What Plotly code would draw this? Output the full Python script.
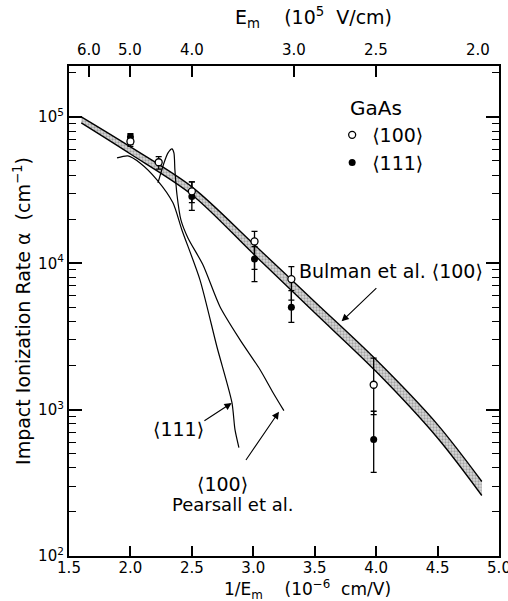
import numpy as np
import plotly.graph_objects as go

# Bulman et al. <100> band (upper / lower edge of the shaded band)
band_x = [1.60, 2.00, 2.50, 3.00, 3.50, 4.00, 4.50, 4.86]
band_upper = [1.00e5, 6.24e4, 3.33e4, 1.36e4, 5.46e3, 2.19e3, 790, 323]
band_lower = [9.1e4, 5.58e4, 2.94e4, 1.16e4, 4.59e3, 1.82e3, 640, 259]

# measured ionization rates, <100> (open) and <111> (filled)
x100 = [2.00, 2.23, 2.50, 3.01, 3.31, 3.98]
a100 = [6.8e4, 4.9e4, 3.1e4, 1.41e4, 7.8e3, 1.48e3]
a100_hi = [7.6e4, 5.35e4, 3.6e4, 1.65e4, 9.5e3, 2.25e3]
a100_lo = [6.3e4, 4.4e4, 2.6e4, 9.1e3, 5.6e3, 925]

x111 = [2.00, 2.50, 3.01, 3.31, 3.98]
a111 = [7.3e4, 2.86e4, 1.07e4, 5.0e3, 624]
a111_hi = [7.7e4, 3.6e4, 1.3e4, 6.5e3, 975]
a111_lo = [6.5e4, 2.3e4, 7.5e3, 3.95e3, 373]

# Pearsall et al. curves
p111_x = [1.891, 1.980, 2.078, 2.216, 2.346, 2.419, 2.566, 2.704, 2.826, 2.851, 2.883]
p111_a = [5.25e4, 5.42e4, 4.85e4, 3.72e4, 2.59e4, 1.69e4, 7.71e3, 2.69e3, 1.12e3, 730, 551]
p100_x = [2.224, 2.273, 2.306, 2.338, 2.354, 2.362, 2.379, 2.411, 2.468, 2.590,
          2.729, 2.891, 3.054, 3.160, 3.249]
p100_a = [3.54e4, 4.85e4, 5.68e4, 6.05e4, 5.68e4, 4.35e4, 2.94e4, 1.98e4, 1.49e4, 9.77e3,
          5.05e3, 3.01e3, 1.88e3, 1.31e3, 984]

# axis ticks
x_ticks = [1.5, 2.0, 2.5, 3.0, 3.5, 4.0, 4.5, 5.0]
x_ticktext = ["1.5", "2.0", "2.5", "3.0", "3.5", "4.0", "4.5", "5.0"]
field_ticks = [6.0, 5.0, 4.0, 3.0, 2.5, 2.0]          # E_m in 1e5 V/cm
field_ticktext = ["6.0", "5.0", "4.0", "3.0", "2.5", "2.0"]
y_ticks = [1e2, 1e3, 1e4, 1e5]
y_ticktext = ["10<sup>2</sup>", "10<sup>3</sup>", "10<sup>4</sup>", "10<sup>5</sup>"]
y_minor = [m * 10 ** k for k in range(2, 6) for m in range(2, 10)]

FONT = "DejaVu Sans"
lg = np.log10

fig = go.Figure()

# shaded band: lower edge, then upper edge filled down to it
fig.add_trace(go.Scatter(x=band_x, y=band_lower, mode="lines",
                         line=dict(color="black", width=1.4, shape="spline", smoothing=0.9),
                         showlegend=False, hoverinfo="skip"))
fig.add_trace(go.Scatter(
    x=band_x, y=band_upper, mode="lines", fill="tonexty",
    line=dict(color="black", width=1.4, shape="spline", smoothing=0.9),
    fillcolor="#d4d4d4",
    fillpattern=dict(shape=".", fgcolor="#6a6a6a", bgcolor="#dadada", size=3, solidity=0.45),
    showlegend=False, hoverinfo="skip"))

# Pearsall et al. curves
for cx, cy in ((p111_x, p111_a), (p100_x, p100_a)):
    fig.add_trace(go.Scatter(x=cx, y=cy, mode="lines",
                             line=dict(color="black", width=1.2, shape="spline", smoothing=0.7),
                             showlegend=False, hoverinfo="skip"))

# data points with error bars
fig.add_trace(go.Scatter(
    x=x111, y=a111, mode="markers", name="⟨111⟩",
    marker=dict(symbol="circle", size=7, color="black"),
    error_y=dict(type="data", symmetric=False,
                 array=[h - v for h, v in zip(a111_hi, a111)],
                 arrayminus=[v - l for v, l in zip(a111, a111_lo)],
                 color="black", thickness=1.3, width=3)))
fig.add_trace(go.Scatter(
    x=x100, y=a100, mode="markers", name="⟨100⟩",
    marker=dict(symbol="circle", size=7, color="white", line=dict(color="black", width=1.3)),
    error_y=dict(type="data", symmetric=False,
                 array=[h - v for h, v in zip(a100_hi, a100)],
                 arrayminus=[v - l for v, l in zip(a100, a100_lo)],
                 color="black", thickness=1.3, width=3)))

# top axis carrier
fig.add_trace(go.Scatter(x=[5.0], y=[1e3], xaxis="x2", mode="markers",
                         marker=dict(opacity=0), showlegend=False, hoverinfo="skip"))

axis_common = dict(showline=True, linecolor="black", linewidth=2.2, showgrid=False,
                   zeroline=False, ticks="inside", tickcolor="black", automargin=False)

fig.update_layout(
    width=508, height=601,
    margin=dict(l=69, r=9, t=66, b=45, autoexpand=False),
    plot_bgcolor="white", paper_bgcolor="white",
    font=dict(family=FONT, size=15, color="black"),
    xaxis=dict(range=[1.5, 5.0], tickvals=x_ticks, ticktext=x_ticktext,
               ticklen=10, tickwidth=1.5, mirror=True, tickfont=dict(size=15),
               ticklabelstandoff=-3, ticklabeloverflow="allow", **axis_common),
    xaxis2=dict(range=[1.5, 5.0], overlaying="x", side="top",
                tickvals=[10.0 / e for e in field_ticks], showticklabels=False,
                ticklen=11, tickwidth=1.5, **axis_common),
    yaxis=dict(type="log", range=[2, 5.348], tickvals=y_ticks, ticktext=y_ticktext,
               ticklen=13, tickwidth=1.5, mirror="ticks", tickfont=dict(size=15),
               minor=dict(tickvals=y_minor, ticks="inside", ticklen=7, tickwidth=1.3,
                          tickcolor="black", showgrid=False),
               title=dict(text="Impact Ionization Rate α  (cm<sup>−1</sup>)",
                          font=dict(size=19), standoff=2),
               **axis_common),
    legend=dict(x=0.612, y=0.898, xanchor="left", yanchor="top",
                bgcolor="rgba(0,0,0,0)", font=dict(size=19), traceorder="reversed",
                tracegroupgap=0, itemwidth=30),
)

ann = []
# top tick labels (field values)
for e, t in zip(field_ticks, field_ticktext):
    ann.append(dict(x=10.0 / e, xref="x", y=1, yref="paper", text=t, showarrow=False,
                    yanchor="middle", yshift=16, xshift=-21 if e == 2.0 else 0,
                    font=dict(size=15)))
# axis titles
ann.append(dict(x=0.568, xref="paper", y=1, yref="paper", yshift=49, yanchor="middle",
                text="E<sub>m</sub>    (10<sup>5</sup>  V/cm)", showarrow=False,
                font=dict(size=19)))
ann.append(dict(x=0.555, xref="paper", y=0, yref="paper", yshift=-33, yanchor="middle",
                text="1/E<sub>m</sub>    (10<sup>−6</sup>  cm/V)", showarrow=False,
                font=dict(size=17)))
# legend heading
ann.append(dict(x=3.998, y=lg(1.15e5), text="GaAs", showarrow=False, font=dict(size=20)))
# curve labels
ann.append(dict(x=4.118, y=lg(8.8e3), text="Bulman et al. ⟨100⟩", showarrow=False,
                font=dict(size=19)))
ann.append(dict(x=3.719, y=lg(4.01e3), ax=4.014, ay=lg(6.92e3), axref="x", ayref="y",
                text="", showarrow=True, arrowhead=2, arrowsize=1.3, arrowwidth=1.1,
                arrowcolor="black"))
ann.append(dict(x=2.395, y=lg(741), text="⟨111⟩", showarrow=False, font=dict(size=19)))
ann.append(dict(x=2.824, y=lg(1.11e3), ax=2.590, ay=lg(828), axref="x", ayref="y",
                text="", showarrow=True, arrowhead=2, arrowsize=1.3, arrowwidth=1.1,
                arrowcolor="black"))
ann.append(dict(x=2.753, y=lg(312), text="⟨100⟩", showarrow=False, font=dict(size=19)))
ann.append(dict(x=2.834, y=lg(226), text="Pearsall et al.", showarrow=False,
                font=dict(size=18)))
ann.append(dict(x=3.209, y=lg(968), ax=2.932, ay=lg(442), axref="x", ayref="y",
                text="", showarrow=True, arrowhead=2, arrowsize=1.3, arrowwidth=1.1,
                arrowcolor="black"))
fig.update_layout(annotations=ann)

fig.write_html("out.html")
